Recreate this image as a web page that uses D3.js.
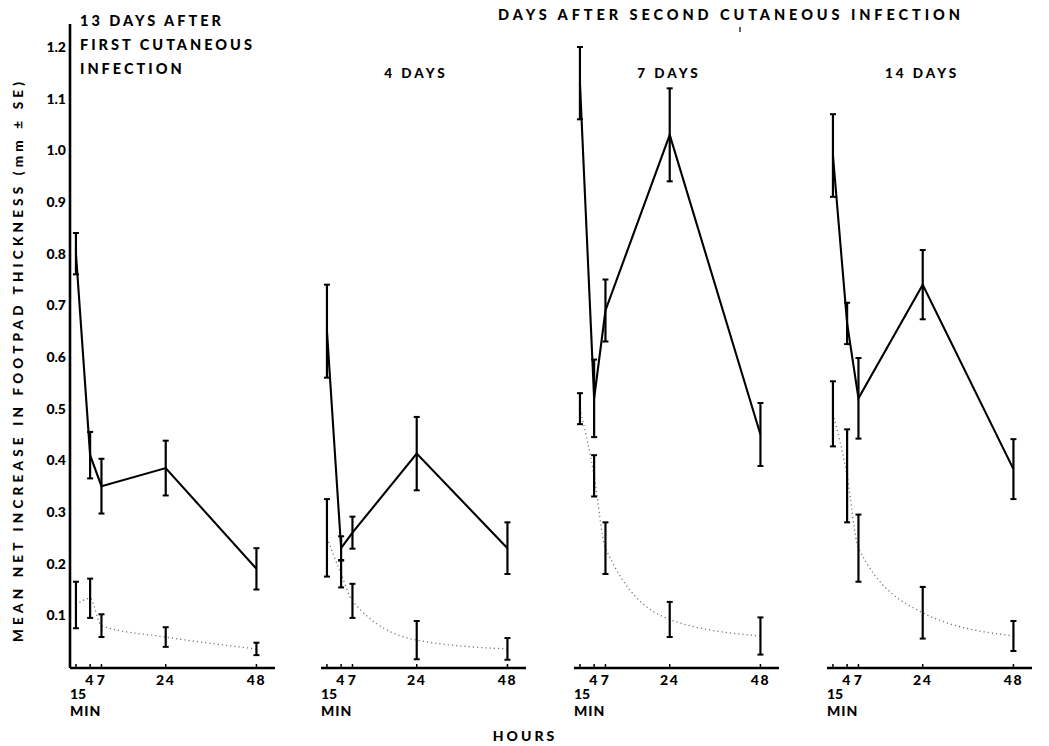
<!DOCTYPE html>
<html><head><meta charset="utf-8">
<script src="https://cdn.jsdelivr.net/npm/d3@7/dist/d3.min.js"></script>
<style>
body{margin:0;background:#fff;}
text{font-family:Lato,"DejaVu Sans",sans-serif;font-weight:900;fill:#000;}
</style></head>
<body><svg id="c" width="1049" height="746"></svg>
<script>
// ---- data ----
const times = [0.25, 4, 7, 24, 48];
const panelNames = ["13 DAYS AFTER|FIRST CUTANEOUS|INFECTION", "4 DAYS", "7 DAYS", "14 DAYS"];
const yTicks = [0.1, 0.2, 0.3, 0.4, 0.5, 0.6, 0.7, 0.8, 0.9, 1.0, 1.1, 1.2];
const xTickLabels = [{t: 4, l: "4"}, {t: 7, l: "7"}, {t: 24, l: "24"}, {t: 48, l: "48"}];
const solidMean = [
  [0.80, 0.41, 0.35, 0.385, 0.19],
  [0.65, 0.23, 0.26, 0.413, 0.23],
  [1.13, 0.52, 0.69, 1.03, 0.45],
  [0.99, 0.665, 0.52, 0.74, 0.383]
];
const solidSE = [
  [0.04, 0.045, 0.053, 0.053, 0.04],
  [0.09, 0.023, 0.031, 0.071, 0.05],
  [0.07, 0.075, 0.06, 0.09, 0.061],
  [0.08, 0.04, 0.078, 0.067, 0.058]
];
const dotMean = [
  [0.12, 0.133, 0.08, 0.058, 0.035],
  [0.25, 0.18, 0.128, 0.052, 0.035],
  [0.50, 0.37, 0.23, 0.092, 0.06],
  [0.49, 0.37, 0.23, 0.105, 0.06]
];
const dotSE = [
  [0.045, 0.038, 0.022, 0.019, 0.012],
  [0.075, 0.026, 0.033, 0.037, 0.021],
  [0.03, 0.04, 0.05, 0.034, 0.036],
  [0.063, 0.09, 0.065, 0.05, 0.029]
];

// ---- layout ----
const svg = d3.select("#c");
const y = d3.scaleLinear().domain([0, 1.2]).range([667, 47]);
const origins = [75, 326, 579, 832];
const pxPerHour = 3.78;

// y axis (only first panel)
svg.append("line").attr("x1", 70).attr("x2", 70).attr("y1", 24).attr("y2", 668)
  .attr("stroke", "#000").attr("stroke-width", 2.6);
svg.selectAll("text.ytick").data(yTicks).join("text").attr("class", "ytick")
  .attr("x", 66).attr("y", d => y(d) + 5).attr("text-anchor", "end")
  .attr("font-size", 14).text(d => d.toFixed(1));

// y title
svg.append("text").attr("transform", "translate(23,362) rotate(-90)")
  .attr("text-anchor", "middle").attr("font-size", 13.5)
  .attr("textLength", 560).attr("lengthAdjust", "spacing")
  .text("MEAN NET INCREASE IN FOOTPAD THICKNESS (mm \u00B1 SE)");

// top title
svg.append("text").attr("x", 498).attr("y", 20).attr("font-size", 14.5)
  .attr("textLength", 462).attr("lengthAdjust", "spacing")
  .text("DAYS AFTER SECOND CUTANEOUS INFECTION");
svg.append("line").attr("x1", 740).attr("x2", 740).attr("y1", 27).attr("y2", 32)
  .attr("stroke", "#000").attr("stroke-width", 1.2);

// x title
svg.append("text").attr("x", 525).attr("y", 741).attr("text-anchor", "middle")
  .attr("font-size", 14).attr("letter-spacing", 3).text("HOURS");

panelNames.forEach((name, p) => {
  const x0 = origins[p];
  const x = d3.scaleLinear().domain([0, 48]).range([x0, x0 + 48 * pxPerHour]);
  const g = svg.append("g");

  // x axis
  g.append("line").attr("x1", x0 - 5).attr("x2", x0 + 200).attr("y1", 668).attr("y2", 668)
    .attr("stroke", "#000").attr("stroke-width", 2.3);
  g.selectAll("line.xt").data(times).join("line").attr("class", "xt")
    .attr("x1", d => x(d)).attr("x2", d => x(d)).attr("y1", 668).attr("y2", 664)
    .attr("stroke", "#000").attr("stroke-width", 1.5);
  g.selectAll("text.xl").data(xTickLabels).join("text").attr("class", "xl")
    .attr("x", d => x(d.t)).attr("y", 685).attr("text-anchor", "middle")
    .attr("font-size", 14).attr("letter-spacing", 1.5).text(d => d.l);
  g.append("text").attr("x", x0 - 5).attr("y", 699).attr("font-size", 14).text("15");
  g.append("text").attr("x", x0 - 5).attr("y", 716).attr("font-size", 14).attr("letter-spacing", 1).text("MIN");

  // panel label
  if (p === 0) {
    name.split("|").forEach((ln, i) => {
      g.append("text").attr("x", 80).attr("y", 26 + i * 24).attr("font-size", 14.5)
        .attr("letter-spacing", 3).text(ln);
    });
  } else {
    g.append("text").attr("x", x0 + 90).attr("y", 78).attr("text-anchor", "middle")
      .attr("font-size", 13.5).attr("letter-spacing", 3).text(name);
  }

  // dotted series
  const dData = times.map((t, i) => ({t, m: dotMean[p][i], s: dotSE[p][i]}));
  g.append("path").datum(dData)
    .attr("d", d3.line().x(d => x(d.t)).y(d => y(d.m)).curve(d3.curveMonotoneX))
    .attr("fill", "none").attr("stroke", "#777").attr("stroke-width", 1.3)
    .attr("stroke-dasharray", "1.2,3");

  // solid series
  const sData = times.map((t, i) => ({t, m: solidMean[p][i], s: solidSE[p][i]}));
  g.append("path").datum(sData)
    .attr("d", d3.line().x(d => x(d.t)).y(d => y(d.m)))
    .attr("fill", "none").attr("stroke", "#000").attr("stroke-width", 2.1);

  // error bars
  [dData, sData].forEach(data => {
    const eb = g.selectAll(null).data(data).join("g");
    eb.append("line").attr("x1", d => x(d.t)).attr("x2", d => x(d.t))
      .attr("y1", d => y(d.m + d.s)).attr("y2", d => y(d.m - d.s))
      .attr("stroke", "#000").attr("stroke-width", 2.2);
    [1, -1].forEach(sgn => {
      eb.append("line").attr("x1", d => x(d.t) - 3).attr("x2", d => x(d.t) + 3)
        .attr("y1", d => y(d.m + sgn * d.s)).attr("y2", d => y(d.m + sgn * d.s))
        .attr("stroke", "#000").attr("stroke-width", 2);
    });
  });
});
</script></body></html>
